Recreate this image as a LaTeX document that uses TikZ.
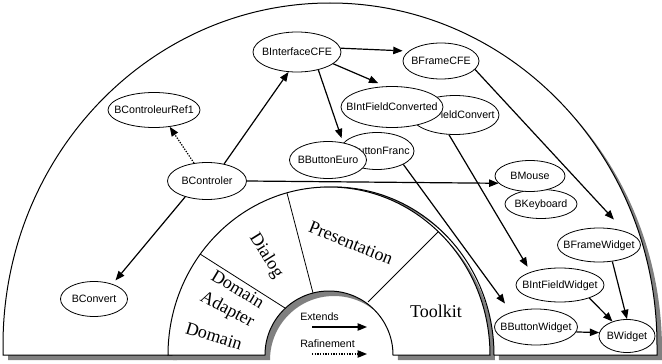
\documentclass[tikz,border=0pt]{standalone}
\usepackage{fontspec}
\setmainfont{Liberation Serif}
\setsansfont{Liberation Sans}
\usetikzlibrary{arrows.meta,shapes.geometric}

\tikzset{
  cls/.style={ellipse, draw, fill=white, line width=0.6pt, inner xsep=-20pt, inner ysep=0pt, text height=6pt, text depth=0.5pt, font=\sffamily\fontsize{8}{9.6}\selectfont},
  sz/.style 2 args={minimum width=#1*0.75pt, minimum height=#2*0.75pt},
  ext/.style={-{Triangle[length=7pt,width=5.5pt]}, line width=0.9pt},
  rfn/.style={ext, dash pattern=on 1pt off 1pt},
  layer/.style={inner sep=0pt, font=\fontsize{13.5}{16}\selectfont},
  legend/.style={anchor=west, inner sep=0pt, font=\sffamily\fontsize{8}{9.6}\selectfont},
  shade/.style={fill=black!50},
}

\begin{document}
\begin{tikzpicture}[x=0.75pt,y=0.75pt,yscale=-1,xscale=1]
\useasboundingbox (0,0) rectangle (662,364);

%Shadows
\fill [shade, shift={(5,5)}] (3,355) -- (3,345) arc [start angle=180, end angle=360, x radius=327, y radius=342] -- (657,355) -- (494,355) arc [start angle=0, end angle=-180, x radius=161, y radius=168] -- cycle ;
\fill [shade, shift={(5,5)}] (168,355) arc [start angle=180, end angle=360, x radius=161, y radius=168] -- (393,355) arc [start angle=0, end angle=-180, radius=64] -- cycle ;
%Outer band
\draw [fill=white, line width=0.75] (3,355) -- (3,345) arc [start angle=180, end angle=360, x radius=327, y radius=342] -- (657,355) -- (494,355) arc [start angle=0, end angle=-180, x radius=161, y radius=168] -- cycle ;
%Layer ring
\draw [fill=white, line width=0.75] (168,355) arc [start angle=180, end angle=360, x radius=161, y radius=168] -- (393,355) arc [start angle=0, end angle=-180, radius=64] -- cycle ;
%Ring separators
\draw [line width=0.6] (200,254) -- (285,308) ;
\draw [line width=0.6] (287,193) -- (313,293) ;
\draw [line width=0.6] (438,232) -- (368,302) ;

% Layer names
\node [layer, rotate=-58] (dlg) at (266,256) {Dialog};
\node [layer, rotate=-31] (dom1) at (238,289) {Domain};
\node [layer, rotate=-28] (adp) at (227,310) {Adapter};
\node [layer, rotate=-17] (dom2) at (214,336) {Domain};
\node [layer, rotate=-22] (prs) at (351,243) {Presentation};
\node [layer] (tlk) at (436,311) {Toolkit};

% Legend
\node [legend] (lgext) at (300,317) {Extends};
\node [legend] (lgraf) at (300,344) {Rafinement};
\coordinate (extA) at (312,327);
\coordinate (extB) at (367,327);
\coordinate (rafA) at (312,354);
\coordinate (rafB) at (367,354);
\draw [ext] (extA) -- (extB) ;
\draw [rfn] (rafA) -- (rafB) ;

% Classes
\node [cls, sz={88}{40}] (ifce) at (297,52) {BInterfaceCFE};
\node [cls, sz={76}{36}] (fcfe) at (441,61) {BFrameCFE};
\node [cls, sz={92}{35}] (ref1) at (154,110) {BControleurRef1};
\node [cls, sz={79}{37}] (ctrl) at (207,181) {BControler};
\node [cls, sz={67}{35}] (conv) at (94,299) {BConvert};
\node [cls, sz={88}{39}] (ifct) at (455,115) {BIntFieldConvert};
\node [cls, sz={102}{41}] (ifcv) at (392,107) {BIntFieldConverted};
\node [cls, sz={74}{37}] (bfrc) at (377,151) {BButtonFranc};
\node [cls, sz={77}{37}] (beur) at (328,160) {BButtonEuro};
\node [cls, sz={72}{29}] (keyb) at (541,204) {BKeyboard};
\node [cls, sz={70}{31}] (mous) at (530,176) {BMouse};
\node [cls, sz={83}{34}] (fwdg) at (599,245) {BFrameWidget};
\node [cls, sz={88}{34}] (iwdg) at (560,285) {BIntFieldWidget};
\node [cls, sz={83}{36}] (bwdg) at (536,327) {BButtonWidget};
\node [cls, sz={56}{33}] (wdgt) at (627,336) {BWidget};

% Links
\draw [ext] (ctrl.45) -- (ifce.247) ;
\draw [rfn] (ctrl.126) -- (ref1.313) ;
\draw [ext, shorten >=3.5pt] (ctrl.216) -- (conv.39) ;
\draw [ext] (ctrl.east) -- (mous.193) ;
\draw [ext, shorten >=4.5pt] (ifce.5) -- (fcfe.163) ;
\draw [ext, shorten >=6pt] (ifce.342) -- (ifcv.107) ;
\draw [ext, shorten >=3.5pt] (ifce.320) -- (beur.49) ;
\draw [ext, shorten >=12pt] (fcfe.346) -- (fwdg.28) ;
\draw [ext, shorten >=4.5pt] (ifct.253) -- (iwdg.156) ;
\draw [ext, shorten >=8pt] (bfrc.333) -- (bwdg.149) ;
\draw [ext] (fwdg.309) -- (wdgt.90) ;
\draw [ext] (iwdg.336) -- (wdgt.135) ;
\draw [ext] (bwdg.353) -- (wdgt.173) ;

\end{tikzpicture}
\end{document}
